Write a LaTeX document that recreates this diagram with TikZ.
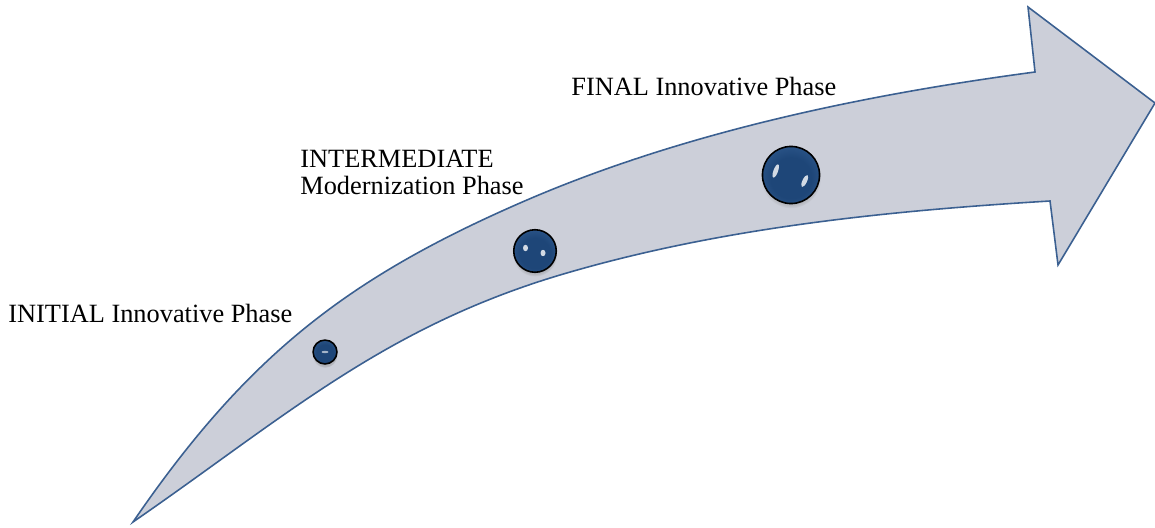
\documentclass[tikz,border=0pt]{standalone}
\usepackage{fontspec}
\setmainfont{Liberation Serif}
\usetikzlibrary{shadows}
\definecolor{arrowfill}{RGB}{204,207,217}
\definecolor{arrowline}{RGB}{59,96,145}
\definecolor{ballcore}{RGB}{30,70,120}
\definecolor{ballmid}{RGB}{52,95,148}
\definecolor{ballrim}{RGB}{128,163,204}
\pgfdeclareradialshading{glassball}{\pgfpoint{0bp}{-4bp}}{color(0bp)=(ballcore); color(18bp)=(ballcore); color(36bp)=(ballmid); color(50bp)=(ballrim)}
\tikzset{
	phase/.style={font=\fontsize{15}{15.5}\selectfont,inner sep=0pt,align=left},
	ball/.style={circle,draw=black,line width=0.9pt,minimum size=#1,shading=glassball,
		circular drop shadow={shadow xshift=0pt,shadow yshift=-1.8pt,opacity=0.35,shadow scale=1.05}},
	shine/.style={fill=white,opacity=0.8}
}

\begin{document}
\begin{tikzpicture}[x=0.02cm,y=-0.02cm]
	\useasboundingbox (0,0) rectangle (1155,527);
	% curved arrow
	\filldraw [fill=arrowfill, draw=arrowline, line width=0.9pt]
		(133,522) .. controls (246,357) and (346,279) .. (520,203)
		.. controls (680,133) and (862,95) .. (1035,72)
		-- (1028,7) -- (1155,103) -- (1058,265) -- (1050,201)
		.. controls (885,211) and (718,228) .. (560,275)
		.. controls (383,328) and (285,417) .. (133,522) -- cycle;

	% phases
	\node [ball=13.6pt] (initial) at (325,352) {};
	\node [ball=24.2pt] (middle) at (535,251) {};
	\node [ball=32.5pt] (final) at (791,175) {};

	\begin{scope}[shift={(initial.center)}]
		\fill [shine, opacity=0.6] (0,0) ellipse [x radius=3.5, y radius=1.2];
	\end{scope}
	\begin{scope}[shift={(middle.center)}]
		\fill [shine] (-9.5,-3) ellipse [x radius=2.5, y radius=3.2];
		\fill [shine] (8,2) ellipse [x radius=2.5, y radius=3.2];
	\end{scope}
	\begin{scope}[shift={(final.center)}]
		\fill [shine, rotate around={-20:(-15.3,-4)}] (-15.3,-4) ellipse [x radius=2.3, y radius=7];
		\fill [shine, rotate around={-25:(13.7,6)}] (13.7,6) ellipse [x radius=2.3, y radius=6.5];
	\end{scope}

	% labels
	\node [phase, anchor=base west] (initiallabel) at (8,322) {INITIAL Innovative Phase};
	\node [phase, anchor=north west] (middlelabel) at (300,150) {INTERMEDIATE\\Modernization Phase};
	\node [phase, anchor=base west] (finallabel) at (571,95) {FINAL Innovative Phase};
\end{tikzpicture}
\end{document}
